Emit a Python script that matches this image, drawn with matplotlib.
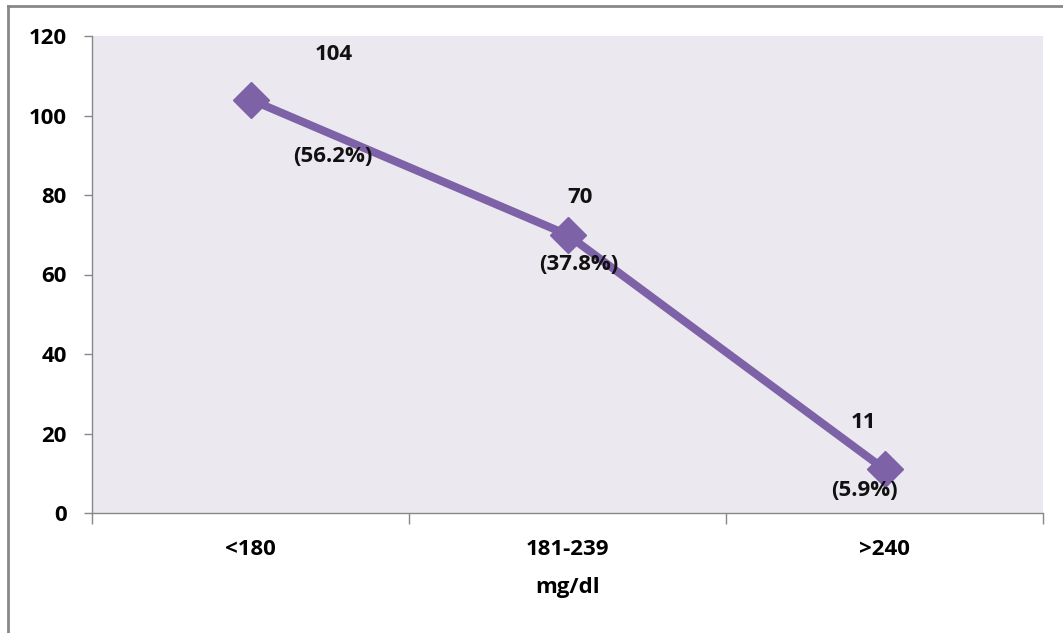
import matplotlib
matplotlib.use("Agg")
import matplotlib.pyplot as plt
from matplotlib.lines import Line2D

categories = ["<180", "181-239", ">240"]
counts = [104, 70, 11]
percents = ["(56.2%)", "(37.8%)", "(5.9%)"]
y_ticks = [0, 20, 40, 60, 80, 100, 120]

# label offsets in pixels (style)
count_offsets = [(83, 45), (13, 37), (-21, 47)]
pct_offsets = [(82, -57), (11, -30), (-20, -21)]

plt.rcParams['font.family'] = ['Open Sans', 'DejaVu Sans']
plt.rcParams['font.weight'] = 'bold'

FS = 16
W, H = 1063, 633
fig = plt.figure(figsize=(W / 100, H / 100), dpi=100)
ax = fig.add_axes([92 / W, 1 - 513 / H, (1043 - 92) / W, (513 - 36) / H])
ax.set_facecolor('#ebe9ef')

purple = '#7e62a8'
x = list(range(len(categories)))
ax.plot(x, counts, color=purple, linewidth=5.8, marker='D', markersize=18,
        markerfacecolor=purple, markeredgecolor=purple, solid_capstyle='butt', zorder=3)

px = 72 / 100
for xi, c, p, co, po in zip(x, counts, percents, count_offsets, pct_offsets):
    ax.annotate(str(c), (xi, c), xytext=(co[0] * px, co[1] * px), textcoords='offset points',
                ha='center', va='center', fontsize=FS, fontweight='bold', color='#111111', zorder=4)
    ax.annotate(p, (xi, c), xytext=(po[0] * px, po[1] * px), textcoords='offset points',
                ha='center', va='center', fontsize=FS, fontweight='bold', color='#111111', zorder=4)

ax.set_xlim(-0.5, len(categories) - 0.5)
ax.set_ylim(0, 120)
ax.set_yticks(y_ticks)
ax.set_yticklabels([str(t) for t in y_ticks], fontsize=FS, fontweight='bold')
ax.set_xticks(x)
ax.set_xticklabels(categories, fontsize=FS, fontweight='bold')
ax.tick_params(axis='x', length=0, pad=19)
ax.set_xticks([i - 0.5 for i in range(len(categories) + 1)], minor=True)
ax.tick_params(axis='x', which='minor', length=8, color='#888888', width=1)
ax.tick_params(axis='y', length=6, color='#888888', width=1, pad=12)
ax.set_xlabel('mg/dl', fontsize=FS, fontweight='bold', labelpad=12)

for s in ['top', 'right']:
    ax.spines[s].set_visible(False)
for s in ['left', 'bottom']:
    ax.spines[s].set_color('#888888')
    ax.spines[s].set_linewidth(1)

# outer chart border (top and left visible)
fig.add_artist(Line2D([8 / W, 1.0], [1 - 6 / H, 1 - 6 / H], transform=fig.transFigure,
                      color='#888888', linewidth=2))
fig.add_artist(Line2D([8 / W, 8 / W], [0, 1 - 6 / H], transform=fig.transFigure,
                      color='#888888', linewidth=2))

fig.savefig('out.png', dpi=100)
